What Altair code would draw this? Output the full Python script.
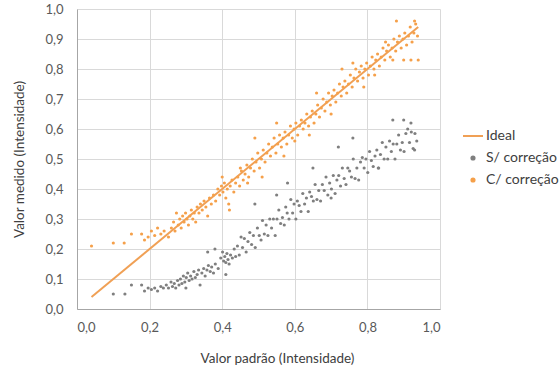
import altair as alt
import pandas as pd

# Orange series "C/ correção"
c_x = [0.040,0.100,0.130,0.150,0.178,0.186,0.196,0.205,0.214,0.222,0.231,0.240,0.252,0.260,0.266,0.270,0.274,0.279,0.283,0.287,
       0.291,0.295,0.299,0.303,0.307,0.311,0.315,0.319,0.323,0.327,0.331,0.336,0.340,0.345,0.350,0.355,0.360,0.365,0.370,0.376,
       0.382,0.388,0.393,0.398,0.402,0.406,0.410,0.414,0.418,0.422,0.427,0.432,0.437,0.443,0.448,0.453,0.458,0.463,0.468,0.473,
       0.478,0.483,0.488,0.493,0.498,0.503,0.508,0.513,0.518,0.523,0.528,0.533,0.538,0.543,0.548,0.553,0.558,0.563,0.568,0.573,
       0.578,0.583,0.588,0.593,0.598,0.603,0.608,0.613,0.618,0.623,0.628,0.633,0.638,0.643,0.648,0.653,0.658,0.663,0.668,0.673,
       0.678,0.683,0.688,0.693,0.698,0.703,0.708,0.713,0.718,0.723,0.728,0.733,0.738,0.743,0.748,0.753,0.758,0.763,0.768,0.773,
       0.778,0.783,0.788,0.793,0.798,0.803,0.808,0.813,0.818,0.823,0.828,0.833,0.838,0.843,0.848,0.853,0.858,0.863,0.868,0.873,
       0.878,0.883,0.888,0.893,0.898,0.903,0.908,0.913,0.918,0.923,0.928,0.933,0.938,
       0.88,0.93,0.87,0.90,0.94,0.92,0.73,0.66,0.60,0.49,0.55,0.42,0.47,0.79,0.70,0.57,0.85,0.64,0.76,0.40,0.45,0.51,0.82]
c_y = [0.21,0.22,0.22,0.25,0.25,0.23,0.24,0.26,0.245,0.27,0.25,0.26,0.24,0.27,0.29,0.26,0.32,0.28,0.30,0.27,
       0.31,0.29,0.32,0.30,0.28,0.31,0.33,0.30,0.32,0.29,0.34,0.32,0.35,0.33,0.36,0.34,0.31,0.37,0.35,0.38,
       0.36,0.40,0.38,0.41,0.39,0.42,0.37,0.40,0.35,0.41,0.43,0.39,0.42,0.44,0.41,0.46,0.43,0.45,0.48,0.44,
       0.47,0.50,0.46,0.49,0.52,0.47,0.50,0.53,0.49,0.52,0.55,0.51,0.54,0.57,0.52,0.55,0.58,0.54,0.57,0.59,
       0.55,0.58,0.61,0.57,0.60,0.62,0.58,0.61,0.63,0.60,0.62,0.65,0.61,0.64,0.66,0.62,0.65,0.68,0.64,0.67,
       0.70,0.66,0.69,0.72,0.68,0.71,0.73,0.69,0.72,0.75,0.71,0.74,0.76,0.72,0.75,0.78,0.74,0.77,0.80,0.76,
       0.79,0.81,0.77,0.80,0.82,0.78,0.81,0.84,0.80,0.83,0.85,0.81,0.84,0.87,0.83,0.86,0.88,0.84,0.87,0.90,
       0.86,0.89,0.91,0.87,0.90,0.92,0.88,0.91,0.94,0.89,0.92,0.95,0.91,
       0.96,0.96,0.83,0.83,0.83,0.83,0.80,0.72,0.56,0.57,0.62,0.33,0.42,0.74,0.65,0.51,0.89,0.58,0.82,0.44,0.47,0.44,0.78]

# Gray series "S/ correção"
s_x = [0.100,0.132,0.150,0.178,0.186,0.196,0.205,0.214,0.222,0.231,0.238,0.246,0.252,0.259,0.263,0.268,0.272,0.277,0.281,0.285,
       0.289,0.293,0.297,0.301,0.305,0.309,0.313,0.317,0.322,0.326,0.331,0.335,0.339,0.344,0.349,0.353,0.358,0.362,0.367,0.371,
       0.376,0.381,0.389,0.396,0.401,0.404,0.407,0.410,0.413,0.416,0.419,0.423,0.428,0.433,0.437,0.442,0.447,0.452,0.456,0.461,
       0.466,0.471,0.476,0.481,0.486,0.491,0.497,0.502,0.507,0.511,0.516,0.521,0.526,0.531,0.536,0.541,0.546,0.551,0.556,0.561,
       0.566,0.571,0.575,0.579,0.584,0.589,0.594,0.598,0.603,0.607,0.612,0.617,0.622,0.627,0.632,0.637,0.641,0.646,0.651,0.656,
       0.661,0.666,0.671,0.676,0.681,0.686,0.691,0.696,0.701,0.706,0.711,0.716,0.721,0.726,0.731,0.736,0.741,0.746,0.751,0.756,
       0.761,0.766,0.771,0.776,0.781,0.786,0.791,0.796,0.801,0.806,0.811,0.816,0.821,0.826,0.831,0.836,0.841,0.846,0.851,0.856,
       0.861,0.866,0.871,0.876,0.881,0.886,0.891,0.896,0.901,0.906,0.911,0.916,0.921,0.926,0.931,0.936,
       0.72,0.87,0.92,0.90,0.55,0.49,0.41,0.36,0.38,0.65,0.76,0.58,0.30,0.70,0.83,0.93]
s_y = [0.05,0.05,0.08,0.08,0.06,0.07,0.065,0.07,0.06,0.075,0.07,0.08,0.07,0.09,0.075,0.085,0.07,0.095,0.08,0.10,
       0.085,0.11,0.09,0.105,0.12,0.095,0.11,0.10,0.125,0.105,0.115,0.13,0.08,0.12,0.135,0.11,0.13,0.145,0.125,0.14,
       0.12,0.15,0.135,0.17,0.19,0.16,0.175,0.155,0.185,0.165,0.15,0.18,0.17,0.20,0.175,0.21,0.18,0.24,0.205,0.235,
       0.19,0.225,0.255,0.215,0.245,0.205,0.27,0.245,0.23,0.295,0.25,0.28,0.245,0.30,0.27,0.30,0.245,0.30,0.33,0.285,
       0.305,0.28,0.34,0.32,0.30,0.365,0.32,0.35,0.30,0.36,0.345,0.325,0.385,0.35,0.37,0.325,0.39,0.375,0.36,0.415,
       0.365,0.395,0.36,0.415,0.395,0.44,0.38,0.42,0.40,0.445,0.385,0.43,0.445,0.41,0.47,0.435,0.415,0.47,0.46,0.44,
       0.50,0.435,0.47,0.43,0.49,0.505,0.47,0.50,0.455,0.525,0.495,0.475,0.51,0.53,0.47,0.515,0.555,0.50,0.54,0.50,
       0.56,0.525,0.55,0.50,0.55,0.58,0.53,0.555,0.525,0.585,0.60,0.555,0.59,0.535,0.585,0.56,
       0.54,0.63,0.62,0.63,0.38,0.35,0.115,0.19,0.20,0.47,0.57,0.42,0.07,0.37,0.47,0.53]

ideal_x = [0.04, 0.94]
ideal_y = [0.04, 0.94]

series = ["Ideal", "S/ correção", "C/ correção"]
colors = ["#F0A055", "#7F7F7F", "#F5A04A"]
shapes = ["stroke", "circle", "circle"]
strokes = ["#F0A055", "transparent", "transparent"]
sizes = [400, 10, 10]

pts = pd.concat([
    pd.DataFrame({"x": s_x, "y": s_y, "serie": "S/ correção"}),
    pd.DataFrame({"x": c_x, "y": c_y, "serie": "C/ correção"}),
])
ideal = pd.DataFrame({"x": ideal_x, "y": ideal_y, "serie": "Ideal"})

lbl = "replace(format(datum.value, '.1f'), '.', ',')"
font = "Lato"

xenc = alt.X("x:Q", scale=alt.Scale(domain=[0, 1], nice=False),
             axis=alt.Axis(title="Valor padrão (Intensidade)", values=[0, 0.2, 0.4, 0.6, 0.8, 1.0],
                           labelExpr=lbl, labelPadding=12, titleX=200, titleY=42))
yenc = alt.Y("y:Q", scale=alt.Scale(domain=[0, 1], nice=False),
             axis=alt.Axis(title="Valor medido  (Intensidade)", values=[i / 10 for i in range(11)],
                           labelExpr=lbl, labelPadding=14, titleX=-51))
cscale = alt.Scale(domain=series, range=colors)
sscale = alt.Scale(domain=series, range=shapes)
stscale = alt.Scale(domain=series, range=strokes)
zscale = alt.Scale(type="ordinal", domain=series, range=sizes)

legend = alt.Legend(
    title=None, orient="none", legendX=385, legendY=116, labelFontSize=14, labelFont=font,
    labelColor="#404040", rowPadding=8, symbolStrokeWidth=2, labelOffset=2,
)

line = alt.Chart(ideal).mark_line(strokeWidth=2).encode(
    x=xenc, y=yenc, color=alt.Color("serie:N", scale=cscale, legend=legend))

points = alt.Chart(pts).mark_point(filled=True, opacity=1, strokeWidth=0).encode(
    x=xenc, y=yenc,
    color=alt.Color("serie:N", scale=cscale, legend=legend),
    stroke=alt.Stroke("serie:N", scale=stscale, legend=legend),
    shape=alt.Shape("serie:N", scale=sscale, legend=legend),
    size=alt.Size("serie:N", scale=zscale, legend=legend))

chart = alt.layer(line, points).properties(
    width=363, height=300,
    autosize=alt.AutoSizeParams(type="none"),
    padding={"left": 77, "top": 9, "right": 120, "bottom": 60},
    background="white",
).configure_view(stroke=None).configure_axis(
    labelFont=font, titleFont=font, labelFontSize=13, titleFontSize=13.5, labelColor="#595959",
    titleColor="#404040", titleFontWeight="normal", gridColor="#D9D9D9", domainColor="#A6A6A6",
    ticks=False,
)

chart.save("out.html", embed_options={"renderer": "svg", "actions": False})
